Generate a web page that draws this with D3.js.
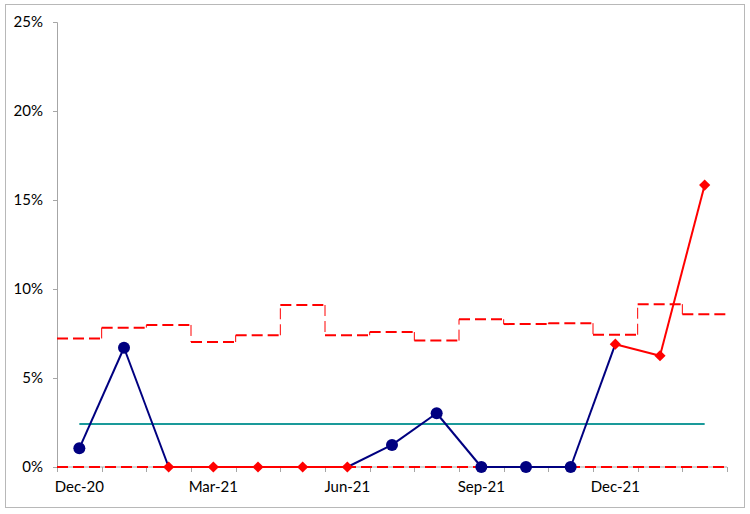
<!DOCTYPE html>
<html>
<head>
<meta charset="utf-8">
<script src="https://cdn.jsdelivr.net/npm/d3@7"></script>
<style>
  body { margin: 0; background: #fff; }
  svg text { font-family: Lato, "Open Sans", sans-serif; font-size: 15px; fill: #000; }
</style>
</head>
<body>
<script>
var w = 750,
    h = 514;

// monthly data
var months = ['Dec-20', 'Jan-21', 'Feb-21', 'Mar-21', 'Apr-21', 'May-21', 'Jun-21',
              'Jul-21', 'Aug-21', 'Sep-21', 'Oct-21', 'Nov-21', 'Dec-21', 'Jan-22', 'Feb-22'];
var rate   = [1.05, 6.7, 0, 0, 0, 0, 0, 1.24, 3.02, 0, 0, 0, 6.9, 6.25, 15.84];
var ucl    = [7.22, 7.83, 7.98, 7.02, 7.4, 9.1, 7.4, 7.58, 7.1, 8.3, 8.03, 8.08, 7.43, 9.15, 8.58];
var lcl    = [0, 0, 0, 0, 0, 0, 0, 0, 0, 0, 0, 0, 0, 0, 0];
var centre = 2.42;
// points flagged as special cause
var signal = [false, false, true, true, true, true, true, false, false, false, false, false, true, true, true];
var labelMonths = ['Dec-20', 'Mar-21', 'Jun-21', 'Sep-21', 'Dec-21'];
var yTicks = [0, 5, 10, 15, 20, 25];

var margin = {left: 57, right: 23, top: 22, bottom: 47};

var svg = d3.select('body')
            .append('svg')
            .attr('width', w)
            .attr('height', h);

// chart area border
svg.append('rect')
   .attr('x', 5.5)
   .attr('y', 4.5)
   .attr('width', 739)
   .attr('height', 503)
   .style('fill', 'none')
   .style('stroke', '#b8b8b8');

var x = d3.scaleBand()
          .domain(months)
          .range([margin.left, w - margin.right]);

var y = d3.scaleLinear()
          .domain([0, 25])
          .range([h - margin.bottom, margin.top]);

function cx(m) { return x(m) + x.bandwidth() / 2; }

// y axis
var yAxis = d3.axisLeft(y)
              .tickValues(yTicks)
              .tickSize(4)
              .tickPadding(10)
              .tickFormat(function(d) { return d + '%'; });

var gy = svg.append('g')
            .attr('transform', 'translate(' + margin.left + ',0)')
            .call(yAxis);
gy.selectAll('path, line').style('stroke', '#a6a6a6');

// x axis: line with ticks at month boundaries
var gx = svg.append('g');
gx.append('line')
  .attr('x1', margin.left)
  .attr('x2', w - margin.right)
  .attr('y1', y(0))
  .attr('y2', y(0))
  .style('stroke', '#a6a6a6');

var bounds = months.map(function(m) { return x(m); }).concat([x(months[months.length - 1]) + x.bandwidth()]);
gx.selectAll('line.tick')
  .data(bounds)
  .enter()
  .append('line')
  .attr('class', 'tick')
  .attr('x1', function(d) { return Math.round(d) + 0.5; })
  .attr('x2', function(d) { return Math.round(d) + 0.5; })
  .attr('y1', y(0))
  .attr('y2', y(0) + 5)
  .style('stroke', '#a6a6a6');

gx.selectAll('text')
  .data(labelMonths)
  .enter()
  .append('text')
  .attr('x', function(d) { return cx(d); })
  .attr('y', y(0) + 25)
  .attr('text-anchor', 'middle')
  .text(function(d) { return d; });

// UCL steps (horizontal dashes)
svg.selectAll('line.ucl')
   .data(ucl)
   .enter()
   .append('line')
   .attr('class', 'ucl')
   .attr('x1', function(d, i) { return x(months[i]); })
   .attr('x2', function(d, i) { return x(months[i]) + x.bandwidth(); })
   .attr('y1', function(d) { return y(d); })
   .attr('y2', function(d) { return y(d); })
   .style('stroke', 'red')
   .style('stroke-width', 2)
   .style('stroke-dasharray', '11,5');

// UCL vertical connectors
svg.selectAll('line.uclv')
   .data(ucl.slice(1))
   .enter()
   .append('line')
   .attr('class', 'uclv')
   .attr('x1', function(d, i) { return x(months[i + 1]); })
   .attr('x2', function(d, i) { return x(months[i + 1]); })
   .attr('y1', function(d, i) { return y(ucl[i]); })
   .attr('y2', function(d) { return y(d); })
   .style('stroke', 'red')
   .style('stroke-width', 1)
   .style('stroke-dasharray', '11,5');

// LCL
svg.append('path')
   .datum(lcl)
   .attr('d', d3.line()
               .x(function(d, i) { return i === 0 ? x(months[0]) : (i === lcl.length - 1 ? x(months[i]) + x.bandwidth() : cx(months[i])); })
               .y(function(d) { return y(d); }))
   .style('fill', 'none')
   .style('stroke', 'red')
   .style('stroke-width', 2)
   .style('stroke-dasharray', '11,5');

// centre line
svg.append('line')
   .attr('x1', cx(months[0]))
   .attr('x2', cx(months[months.length - 1]))
   .attr('y1', y(centre))
   .attr('y2', y(centre))
   .style('stroke', '#1a9a9a')
   .style('stroke-width', 2);

// data line, segment by segment
var segs = d3.range(rate.length - 1);
svg.selectAll('line.seg')
   .data(segs)
   .enter()
   .append('line')
   .attr('class', 'seg')
   .attr('x1', function(i) { return cx(months[i]); })
   .attr('x2', function(i) { return cx(months[i + 1]); })
   .attr('y1', function(i) { return y(rate[i]); })
   .attr('y2', function(i) { return y(rate[i + 1]); })
   .style('stroke', function(i) { return signal[i] && signal[i + 1] ? 'red' : '#000080'; })
   .style('stroke-width', 2);

// markers
var pts = rate.map(function(v, i) { return {m: months[i], v: v, s: signal[i]}; });

svg.selectAll('circle')
   .data(pts.filter(function(d) { return !d.s; }))
   .enter()
   .append('circle')
   .attr('cx', function(d) { return cx(d.m); })
   .attr('cy', function(d) { return y(d.v); })
   .attr('r', 6)
   .style('fill', '#000080');

var diamond = d3.symbol().type(d3.symbolDiamond2).size(80);
svg.selectAll('path.dia')
   .data(pts.filter(function(d) { return d.s; }))
   .enter()
   .append('path')
   .attr('class', 'dia')
   .attr('d', diamond)
   .attr('transform', function(d) { return 'translate(' + cx(d.m) + ',' + y(d.v) + ')'; })
   .style('fill', 'red');
</script>
</body>
</html>
